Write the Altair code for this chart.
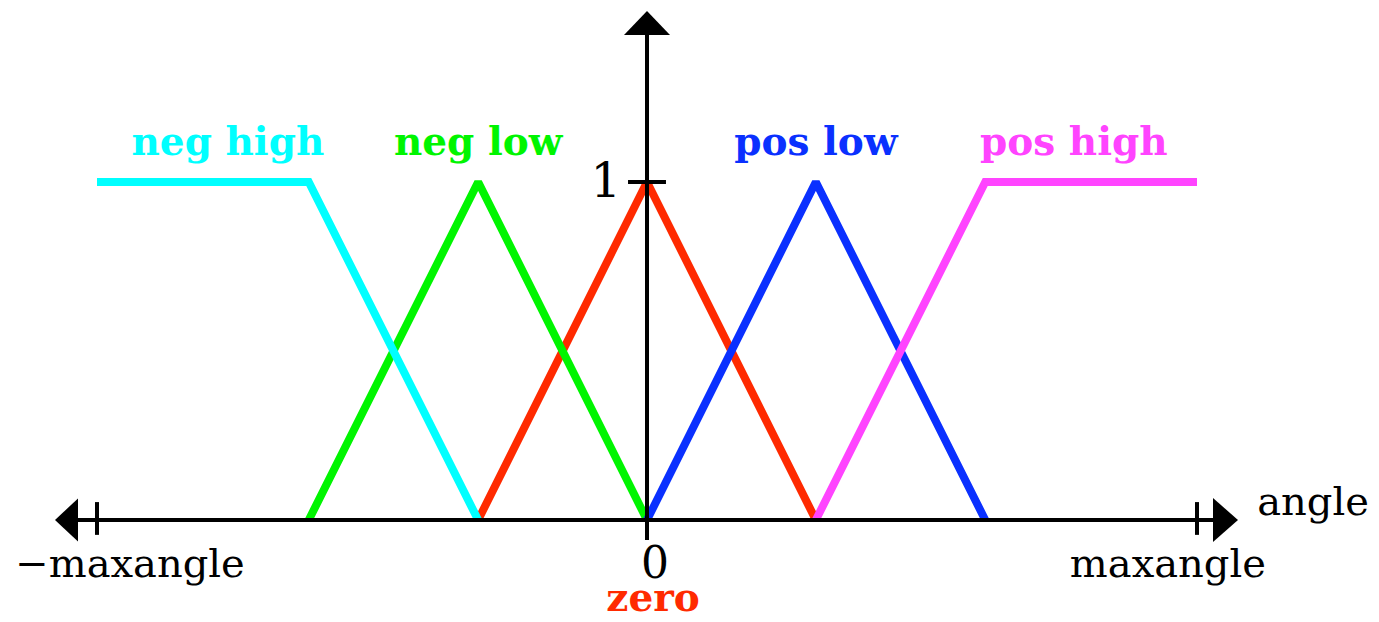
import altair as alt
import pandas as pd

# ---- data (x in units of maxangle, y = membership degree) ----
series_names = ["zero", "neg low", "neg high", "pos low", "pos high"]  # draw order
series_colors = ["#FF2A00", "#00F500", "#00FFFF", "#0A30FF", "#FF44FF"]

neg_high_x = [-1.0, -0.615, -0.307]
neg_high_y = [1.0, 1.0, 0.0]
neg_low_x = [-0.615, -0.307, 0.0]
neg_low_y = [0.0, 1.0, 0.0]
zero_x = [-0.307, 0.0, 0.307]
zero_y = [0.0, 1.0, 0.0]
pos_low_x = [0.0, 0.307, 0.615]
pos_low_y = [0.0, 1.0, 0.0]
pos_high_x = [0.307, 0.615, 1.0]
pos_high_y = [0.0, 1.0, 1.0]

label_text = ["neg high", "neg low", "pos low", "pos high"]
label_x = [-0.762, -0.307, 0.307, 0.776]
label_y = [1.08, 1.08, 1.08, 1.08]
label_color = ["#00FFFF", "#00F500", "#0A30FF", "#FF44FF"]

W, H = 1363, 606
X0, PXU = 639.0, 550.0   # chart px of x=0, px per unit
Y0, PYU = 512.0, 338.0   # chart px of y=0, px per unit

xscale = alt.Scale(domain=[-X0 / PXU, (W - X0) / PXU], nice=False, zero=False)
yscale = alt.Scale(domain=[-(H - Y0) / PYU, Y0 / PYU], nice=False, zero=False)

rows = []
for name, xs, ys in [("neg high", neg_high_x, neg_high_y), ("neg low", neg_low_x, neg_low_y),
                     ("zero", zero_x, zero_y), ("pos low", pos_low_x, pos_low_y),
                     ("pos high", pos_high_x, pos_high_y)]:
    for i, (a, b) in enumerate(zip(xs, ys)):
        rows.append({"series": name, "x": a, "y": b, "i": i})
lines_df = pd.DataFrame(rows)

layers = []
for name, col in zip(series_names, series_colors):
    layers.append(
        alt.Chart(lines_df[lines_df.series == name]).mark_line(
            strokeWidth=8, color=col, strokeJoin="miter", strokeMiterLimit=2
        ).encode(
            x=alt.X("x:Q", scale=xscale, axis=None),
            y=alt.Y("y:Q", scale=yscale, axis=None),
            order="i:Q",
        )
    )

# axes (rules)
rules_df = pd.DataFrame({
    "x":  [-1.062, 0.0, -1.0, 1.0, -0.0345],
    "x2": [1.05, 0.0, -1.0, 1.0, 0.0345],
    "y":  [0.0, 1.45, 0.053, 0.053, 1.0],
    "y2": [0.0, -0.059, -0.044, -0.044, 1.0],
})
rules = alt.Chart(rules_df).mark_rule(color="black", strokeWidth=4, strokeCap="butt").encode(
    x=alt.X("x:Q", scale=xscale, axis=None), x2="x2:Q",
    y=alt.Y("y:Q", scale=yscale, axis=None), y2="y2:Q",
)

# arrow heads
arrow_df = pd.DataFrame({
    "x": [-1.0555, 1.0518, 0.0],
    "y": [0.0, 0.0, 1.4704],
    "shape": ["M0.46,-0.86L-0.46,0L0.46,0.86Z", "M-0.5,-0.88L0.5,0L-0.5,0.88Z",
              "M0,-0.48L0.92,0.48L-0.92,0.48Z"],
})
arrows = alt.Chart(arrow_df).mark_point(filled=True, color="black", opacity=1, size=2500, strokeWidth=0).encode(
    x=alt.X("x:Q", scale=xscale, axis=None),
    y=alt.Y("y:Q", scale=yscale, axis=None),
    shape=alt.Shape("shape:N", scale=None, legend=None),
)

# series labels
lab_df = pd.DataFrame({"t": label_text, "x": label_x, "y": label_y, "c": label_color})
labels = alt.Chart(lab_df).mark_text(
    font="DejaVu Serif", fontWeight="bold", fontSize=39, baseline="alphabetic", align="center"
).encode(
    x=alt.X("x:Q", scale=xscale, axis=None),
    y=alt.Y("y:Q", scale=yscale, axis=None),
    text="t:N",
    color=alt.Color("c:N", scale=None, legend=None),
)

# axis texts
ax_df = pd.DataFrame({
    "t": ["\u2212maxangle", "maxangle", "angle"],
    "x": [-0.94, 0.947, 1.211],
    "y": [-0.169, -0.169, 0.0148],
})
axtexts = alt.Chart(ax_df).mark_text(
    font="DejaVu Serif", fontSize=40, baseline="alphabetic", align="center", color="black"
).encode(
    x=alt.X("x:Q", scale=xscale, axis=None),
    y=alt.Y("y:Q", scale=yscale, axis=None),
    text="t:N",
)

num_df = pd.DataFrame({"t": ["0"], "x": [0.0145], "y": [-0.1716]})
nums = alt.Chart(num_df).mark_text(
    font="DejaVu Serif", fontSize=44, baseline="alphabetic", align="center", color="black"
).encode(
    x=alt.X("x:Q", scale=xscale, axis=None),
    y=alt.Y("y:Q", scale=yscale, axis=None),
    text="t:N",
)
one_df = pd.DataFrame({"t": ["1"], "x": [-0.047], "y": [0.956]})
one = alt.Chart(one_df).mark_text(
    font="DejaVu Serif", fontSize=48, baseline="alphabetic", align="right", color="black"
).encode(
    x=alt.X("x:Q", scale=xscale, axis=None),
    y=alt.Y("y:Q", scale=yscale, axis=None),
    text="t:N",
)

zero_df = pd.DataFrame({"t": ["zero"], "x": [0.011], "y": [-0.268]})
zero_lab = alt.Chart(zero_df).mark_text(
    font="DejaVu Serif", fontWeight="bold", fontSize=39, baseline="alphabetic", align="center", color="#FF2A00"
).encode(
    x=alt.X("x:Q", scale=xscale, axis=None),
    y=alt.Y("y:Q", scale=yscale, axis=None),
    text="t:N",
)

chart = alt.layer(*layers, rules, arrows, labels, axtexts, nums, one, zero_lab).properties(
    width=W, height=H, padding=0, background="white", autosize=alt.AutoSizeParams(type="none")
).configure_view(stroke=None, strokeWidth=0)

chart.save("out.html", embed_options={"renderer": "svg", "actions": False})
